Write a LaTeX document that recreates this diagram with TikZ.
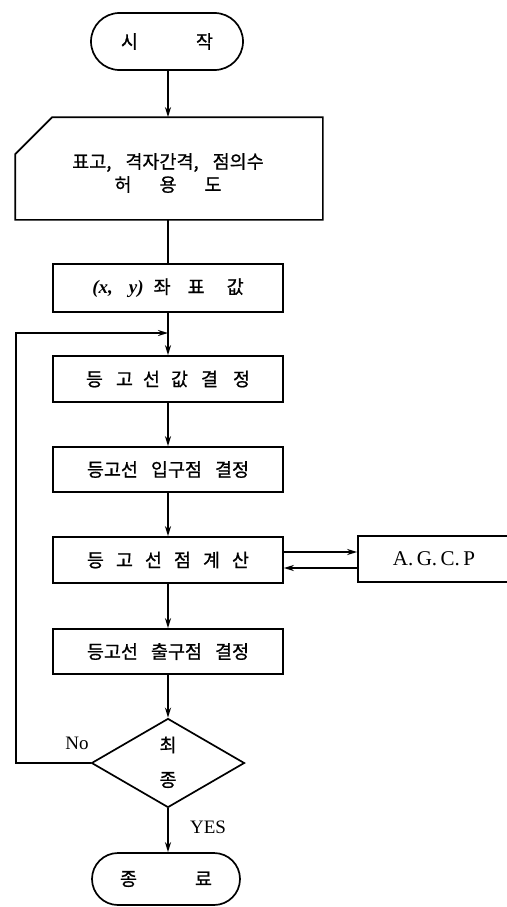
\documentclass[tikz,border=0pt]{standalone}
\usepackage{fontspec}
\setmainfont{Liberation Serif}
\newfontfamily\kr[FakeBold=0.8]{Noto Sans CJK KR}
\usetikzlibrary{shapes.geometric,shapes.misc,arrows.meta,calc}
\begin{document}
\begin{tikzpicture}[x=1pt,y=-1pt,
  line width=1.7pt,
  krtext/.style={font=\kr\fontsize{18.5}{23}\selectfont},
  term/.style={rounded rectangle, draw, krtext, inner sep=0pt},
  proc/.style={rectangle, draw, krtext, minimum width=230pt, inner sep=0pt},
  flow/.style={-{Stealth[length=10pt,width=6pt]}},
  lbl/.style={font=\fontsize{19}{21}\selectfont}
]
\useasboundingbox (0,0) rectangle (506,907);
% start
\node[term, minimum width=152pt, minimum height=57pt] (start) at (167,41.5) {시\hspace{58pt}작};
% input card
\node[minimum width=306pt, minimum height=101pt, inner sep=0pt] (card) at (169,168.5) {};
\draw ($(card.north west)+(0,37)$) -- ($(card.north west)+(37,0)$) -- (card.north east) -- (card.south east) -- (card.south west) -- cycle;
\node[krtext, align=center, inner sep=0pt] (cardtext) at (168,173) {표고,\hspace{14pt}격자간격,\hspace{14pt}점의수\\ 허\hspace{28pt}용\hspace{28pt}도};
% boxes
\node[proc, minimum height=48pt] (coord) at (168,288) {{\rmfamily\bfseries\itshape\fontsize{19}{20}\selectfont(x,\hspace{16pt}y)}\hspace{10pt}좌\hspace{17pt}표\hspace{22pt}값};
\node[proc, minimum height=46pt] (val) at (168,379) {등\hspace{13pt}고\hspace{10pt}선\hspace{11pt}값\hspace{13pt}결\hspace{15pt}정};
\node[proc, minimum height=45pt] (inpt) at (168,469.5) {등고선\hspace{13pt}입구점\hspace{13pt}결정};
\node[proc, minimum height=46pt] (calc) at (168,560) {등\hspace{12pt}고\hspace{12pt}선\hspace{12pt}점\hspace{12pt}계\hspace{12pt}산};
\node[rectangle, draw, minimum width=152pt, minimum height=46pt, inner sep=0pt, font=\fontsize{21}{22}\selectfont] (agcp) at (434,559) {A.\,G.\,C.\,P};
\node[proc, minimum height=45pt] (outp) at (168,651.5) {등고선\hspace{13pt}출구점\hspace{13pt}결정};
\node[diamond, draw, aspect=1.72, minimum width=153pt, minimum height=89pt, inner sep=0pt] (dec) at (168,763) {};
\node[krtext, inner sep=0pt] (dectop) at (168,745) {최};
\node[krtext, inner sep=0pt] (decbot) at (168,780) {종};
\node[term, minimum width=148pt, minimum height=52pt] (stop) at (166,879) {종\hspace{58pt}료};
% labels
\node[lbl] (no) at (77,743) {No};
\node[lbl] (yes) at (208,827) {YES};
% connectors
\coordinate (loopin) at (168,333);
\coordinate (loopa) at (16,763);
\coordinate (loopb) at (16,333);
\draw[flow] (start.south -| coord.north) -- (card.north -| coord.north);
\draw (card.south -| coord.north) -- (coord.north);
\draw[flow] (coord.south) -- (val.north);
\draw[flow] (dec.west) -- (loopa) -- (loopb) -- (loopin);
\draw[flow] (val.south) -- (inpt.north);
\draw[flow] (inpt.south) -- (calc.north);
\draw[flow] ($(calc.east)+(0,-8)$) -- ($(agcp.west)+(0,-7)$);
\draw[flow] ($(agcp.west)+(0,9)$) -- ($(calc.east)+(0,8)$);
\draw[flow] (calc.south) -- (outp.north);
\draw[flow] (outp.south) -- (dec.north);
\draw[flow] (dec.south) -- (dec.south |- stop.north);
\end{tikzpicture}
\end{document}
